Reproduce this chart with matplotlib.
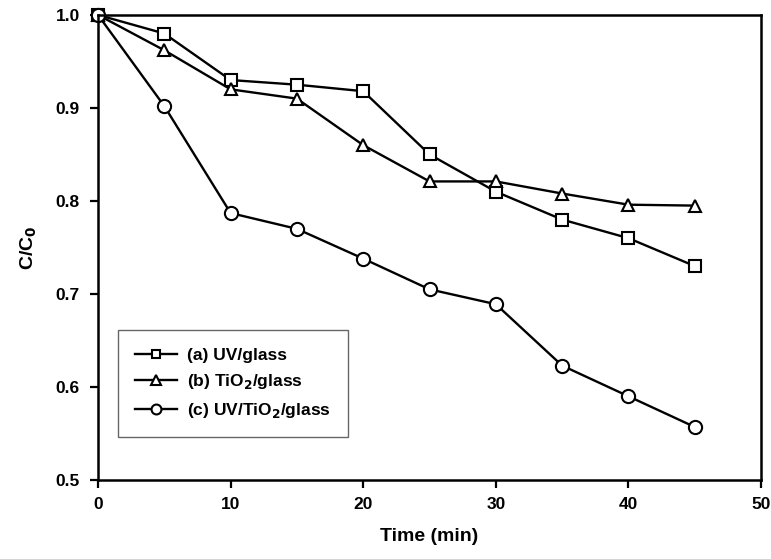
import numpy as np
import matplotlib
matplotlib.use("Agg")
import matplotlib.pyplot as plt

plt.rcParams['font.family'] = ['Liberation Sans', 'DejaVu Sans']
plt.rcParams['font.weight'] = 'bold'
plt.rcParams['mathtext.default'] = 'bf'

# datos
tiempo = [0, 5, 10, 15, 20, 25, 30, 35, 40, 45]
uv_glass = [1.0, 0.980, 0.930, 0.925, 0.918, 0.850, 0.810, 0.780, 0.760, 0.730]
tio2_glass = [1.0, 0.962, 0.920, 0.910, 0.860, 0.821, 0.821, 0.808, 0.796, 0.795]
uv_tio2_glass = [1.0, 0.902, 0.787, 0.770, 0.738, 0.705, 0.689, 0.623, 0.590, 0.557]

etiquetas = ['(a) UV/glass', '(b) TiO$_2$/glass', '(c) UV/TiO$_2$/glass']
marcadores = ['s', '^', 'o']
tamanos = [8.5, 9, 9.5]

fig = plt.figure(figsize=(7.71, 5.59), dpi=100)
ax = fig.add_axes([0.1271, 0.1413, 0.860, 0.832])

for serie, m, t, lab in zip([uv_glass, tio2_glass, uv_tio2_glass], marcadores, tamanos, etiquetas):
    ax.plot(tiempo, serie, color='black', lw=1.7, marker=m, markersize=t,
            markerfacecolor='white', markeredgecolor='black', markeredgewidth=1.5, label=lab,
            clip_on=False)

ax.set_xlim(0, 50)
ax.set_ylim(0.5, 1.0)
ax.set_xticks(np.arange(0, 51, 10))
ax.set_yticks(np.arange(0.5, 1.01, 0.1))
ax.set_yticklabels([f'{v:.1f}' for v in np.arange(0.5, 1.01, 0.1)])
ax.tick_params(direction='out', length=6, width=1.6, labelsize=12.5)
ax.tick_params(axis='x', pad=6)
ax.tick_params(axis='y', pad=7)
for s in ax.spines.values():
    s.set_linewidth(1.8)

ax.set_xlabel('Time (min)', fontsize=14, fontweight='bold', labelpad=12)
ax.set_ylabel('C/C$_0$', fontsize=14, fontweight='bold', labelpad=12)

leg = ax.legend(loc='lower left', bbox_to_anchor=(0.030, 0.092), fontsize=12.5, frameon=True,
                fancybox=False, edgecolor='#404040', handlelength=2.4, borderpad=1.0,
                labelspacing=0.55, borderaxespad=0, handletextpad=0.6, markerscale=0.75)
leg.get_frame().set_linewidth(1.0)

fig.savefig('out.png', dpi=100)
